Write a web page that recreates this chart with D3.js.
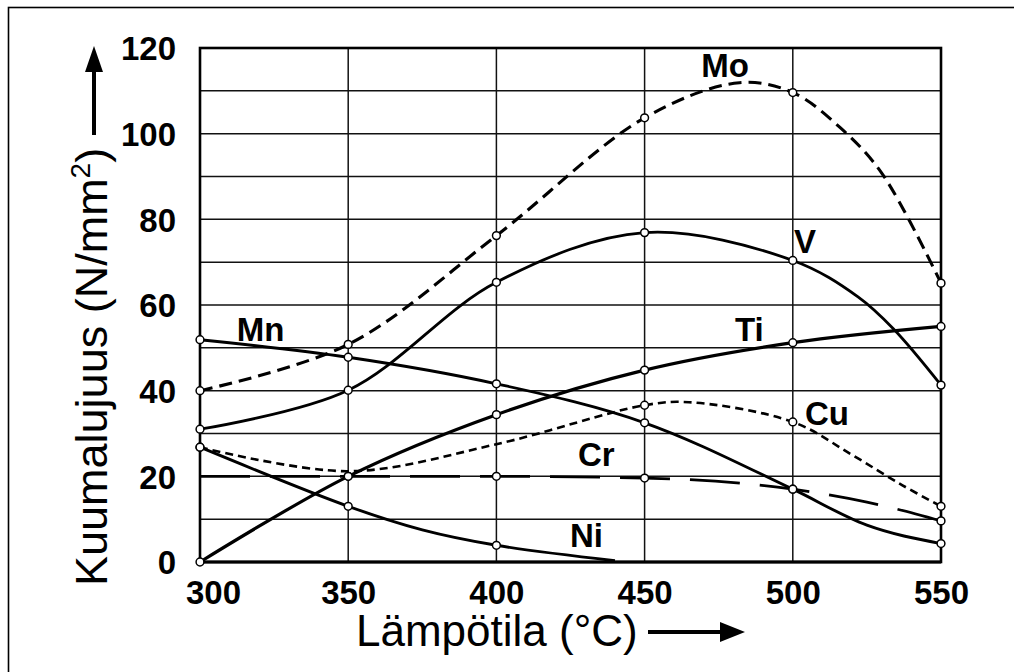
<!DOCTYPE html>
<html>
<head>
<meta charset="utf-8">
<script src="https://d3js.org/d3.v7.min.js"></script>
<style>
  html, body { margin: 0; padding: 0; background: #fff; }
  svg { display: block; }
  text { font-family: "Liberation Sans", Arial, Helvetica, sans-serif; fill: #000; }
</style>
</head>
<body>
<svg id="chart" width="1014" height="672"></svg>
<script>
// ---------- data ----------
const xTicks = [300, 350, 400, 450, 500, 550];
const yTicks = [0, 20, 40, 60, 80, 100, 120];
const yGrid = [10, 20, 30, 40, 50, 60, 70, 80, 90, 100, 110];

const moT = [300, 350, 400, 450, 482, 500, 516, 530, 550];
const moV = [40, 50.8, 76.2, 103.7, 111.9, 109.6, 101.4, 90.8, 65.1];
const moM = [300, 350, 400, 450, 500, 550];

const vT = [300, 350, 400, 450, 500, 522, 534, 550];
const vV = [31, 40.1, 65.3, 76.9, 70.4, 61.9, 54.4, 41.3];
const vM = [300, 350, 400, 450, 500, 550];

const mnT = [300, 350, 400, 450, 500, 525, 550];
const mnV = [51.9, 47.8, 41.6, 32.5, 17, 8.6, 4.3];
const mnM = [300, 350, 400, 450, 500, 550];

const tiT = [300, 350, 400, 450, 500, 550];
const tiV = [0, 20, 34.4, 44.8, 51.2, 55];
const tiM = [300, 350, 400, 450, 500, 550];

const cuT = [300, 350, 400, 450, 465, 500, 520, 537, 550];
const cuV = [26.8, 21.2, 27.5, 36.6, 37.3, 32.7, 25, 17.9, 13];
const cuM = [300, 450, 500, 550];

const crT = [300, 350, 400, 450, 500, 525, 550];
const crV = [20, 20, 20, 19.6, 17, 14, 9.6];
const crM = [350, 400, 450, 500, 550];

const niT = [300, 350, 375, 400, 440];
const niV = [26.8, 13, 7.5, 3.9, 0.3];
const niM = [300, 350, 400];

const labelNames = ["Mo", "V", "Ti", "Cu", "Cr", "Ni", "Mn"];
const labelT = [469.1, 500.4, 480.5, 504.1, 427.5, 424.8, 312.4];
const labelV = [113.3, 72.1, 51.7, 32.0, 22.3, 3.4, 51.7];

// ---------- layout ----------
const svg = d3.select("#chart");
const L = 200, R = 941, T = 48, B = 562;
const x = d3.scaleLinear().domain([300, 550]).range([L, R]);
const y = d3.scaleLinear().domain([0, 120]).range([B, T]);

// outer frame (extends beyond the picture on right/bottom)
svg.append("rect").attr("x", 8.5).attr("y", 7.5).attr("width", 1400).attr("height", 1000)
  .attr("fill", "none").attr("stroke", "#000").attr("stroke-width", 1.6);

// grid
const g = svg.append("g");
g.selectAll("line.hg").data(yGrid).join("line")
  .attr("x1", L).attr("x2", R).attr("y1", d => y(d)).attr("y2", d => y(d))
  .attr("stroke", "#111").attr("stroke-width", 1.5);
g.selectAll("line.vg").data(xTicks.slice(1, -1)).join("line")
  .attr("y1", T).attr("y2", B).attr("x1", d => x(d)).attr("x2", d => x(d))
  .attr("stroke", "#111").attr("stroke-width", 1.5);

// plot border
g.append("rect").attr("x", L).attr("y", T).attr("width", R - L).attr("height", B - T)
  .attr("fill", "none").attr("stroke", "#000").attr("stroke-width", 2.6);
g.append("line").attr("x1", L).attr("x2", R).attr("y1", B).attr("y2", B)
  .attr("stroke", "#000").attr("stroke-width", 3.2);

// axes (labels only)
const xAxis = svg.append("g").attr("transform", `translate(0,${B})`)
  .call(d3.axisBottom(x).tickValues(xTicks).tickSize(0).tickPadding(0).tickFormat(d3.format("d")));
xAxis.select(".domain").remove();
xAxis.selectAll("text").attr("dy", 0).attr("y", 42)
  .attr("dx", (d, i) => i === 0 ? 13 : 0)
  .style("font-size", "33px").style("font-weight", "bold")
  .style("font-family", '"Liberation Sans", Arial, sans-serif');

const yAxis = svg.append("g").attr("transform", `translate(${L},0)`)
  .call(d3.axisLeft(y).tickValues(yTicks).tickSize(0).tickPadding(0).tickFormat(d3.format("d")));
yAxis.select(".domain").remove();
yAxis.selectAll("text").attr("x", -24).attr("dy", "0.36em")
  .style("font-size", "33px").style("font-weight", "bold")
  .style("font-family", '"Liberation Sans", Arial, sans-serif');

// series
const smooth = d3.curveCatmullRom.alpha(0.5);
const mono = d3.curveMonotoneX;
const series = [
  { t: moT, v: moV, m: moM, dash: "13,7", w: 3.1, c: smooth },
  { t: vT, v: vV, m: vM, dash: null, w: 2.8, c: smooth },
  { t: mnT, v: mnV, m: mnM, dash: null, w: 2.9, c: mono },
  { t: tiT, v: tiV, m: tiM, dash: null, w: 3.2, c: smooth },
  { t: cuT, v: cuV, m: cuM, dash: "8,5", w: 2.6, c: smooth },
  { t: crT, v: crV, m: crM, dash: "50,20", w: 2.8, c: mono },
  { t: niT, v: niV, m: niM, dash: null, w: 2.9, c: smooth }
];

const lg = svg.append("g");
series.forEach(s => {
  const line = d3.line().x(d => x(d[0])).y(d => y(d[1])).curve(s.c);
  const pts = s.t.map((t, i) => [t, s.v[i]]);
  lg.append("path").attr("d", line(pts)).attr("fill", "none")
    .attr("stroke", "#000").attr("stroke-width", s.w)
    .attr("stroke-dasharray", s.dash).attr("stroke-linecap", "butt");
});
const mg = svg.append("g");
series.forEach(s => {
  const pts = s.t.map((t, i) => [t, s.v[i]]).filter(p => s.m.includes(p[0]));
  mg.selectAll(null).data(pts).join("circle")
    .attr("cx", d => x(d[0])).attr("cy", d => y(d[1])).attr("r", 3.9)
    .attr("fill", "#fff").attr("stroke", "#000").attr("stroke-width", 1.5);
});

// series labels
svg.append("g").selectAll("text").data(labelNames).join("text")
  .attr("x", (d, i) => x(labelT[i])).attr("y", (d, i) => y(labelV[i]))
  .style("font-size", "33px").style("font-weight", "bold").text(d => d);

// x title + arrow
svg.append("text").attr("x", 356).attr("y", 646).style("font-size", "44px").text("Lämpötila (°C)");
svg.append("line").attr("x1", 648).attr("x2", 724).attr("y1", 632).attr("y2", 632)
  .attr("stroke", "#000").attr("stroke-width", 4);
svg.append("path").attr("d", "M745,632 L720,622 L720,642 Z").attr("fill", "#000");

// y title + arrow
const yt = svg.append("text").attr("transform", "translate(107,586) rotate(-90)").style("font-size", "45px");
yt.append("tspan").text("Kuumalujuus (N/mm");
yt.append("tspan").attr("dy", -17).style("font-size", "28px").text("2");
yt.append("tspan").attr("dy", 17).text(")");
svg.append("line").attr("x1", 94).attr("x2", 94).attr("y1", 135).attr("y2", 68)
  .attr("stroke", "#000").attr("stroke-width", 4);
svg.append("path").attr("d", "M94,46 L85,72 L103,72 Z").attr("fill", "#000");
</script>
</body>
</html>
